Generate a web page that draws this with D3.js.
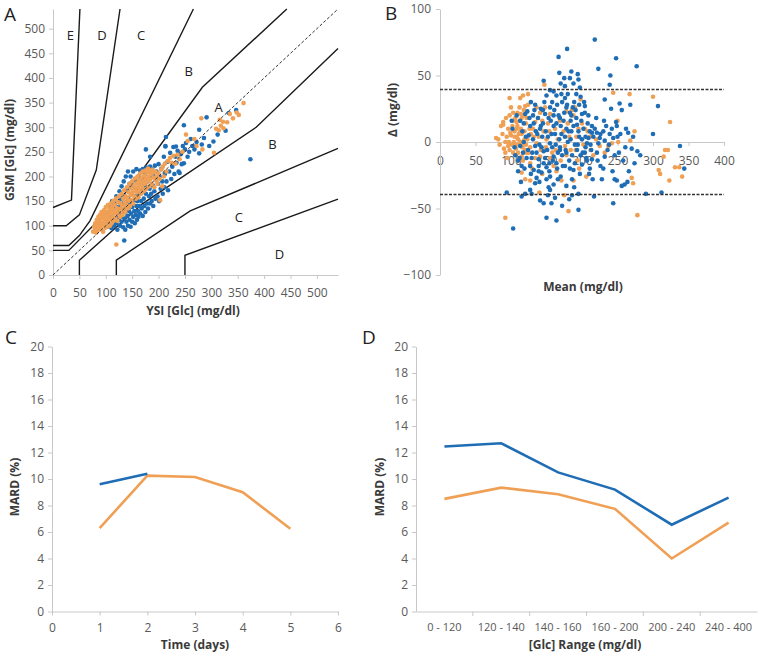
<!DOCTYPE html>
<html><head><meta charset="utf-8">
<script src="https://cdn.jsdelivr.net/npm/d3@7"></script>
<style>
body{margin:0;background:#fff;}
svg{display:block;font-family:"Open Sans",sans-serif;}
</style></head><body>
<svg id="c" width="760" height="653"></svg>
<script>
// ---------- Panel A : Parkes error grid (YSI vs GSM) ----------
const gridE_D = [[0,137],[35,152],[51,540]];
const gridD_C = [[0,100],[25,100],[50,122],[82,213],[127,540]];
const gridC_B = [[0,60],[30,60],[50,80],[70,110],[266,540]];
const gridB_A = [[0,50],[30,50],[140,170],[283,381],[443,540]];
const gridA_B = [[50,0],[50,30],[170,145],[385,300],[540,460]];
const gridB_C = [[120,0],[120,30],[260,130],[540,257]];
const gridC_D = [[250,0],[250,40],[540,154]];
const zoneNames = ["E","D","C","B","A","B","C","D"];
const zoneX = [33,93,167,257,314,416,352,429];
const zoneY = [487,487,487,413,341,266,117,42];
const axisTicksA = [0,50,100,150,200,250,300,350,400,450,500];

const blueA = [[100,108],[102,118],[104,98],[105,125],[106,112],[108,130],[108,102],[110,140],[110,118],[111,95],[112,150],[113,108],[114,125],[115,135],
[116,100],[117,145],[118,115],[119,128],[120,160],[120,105],[121,138],[122,92],[123,120],[124,148],[125,112],[126,170],[126,130],[127,100],[128,140],[128,118],[129,155],[130,108],[130,180],[131,125],[132,145],[133,97],[134,135],[134,190],[135,70],[135,115],[136,160],[137,92],[137,128],[138,200],[138,148],
[139,108],[140,140],[140,172],[141,120],[142,210],[142,100],[143,155],[144,130],[145,185],[145,112],[146,145],[147,200],[147,98],[148,125],[149,165],[150,138],[150,108],[151,178],[152,118],[152,210],[153,150],[154,130],[155,192],[155,105],[156,160],[157,122],[158,140],[158,215],[159,112],[160,175],[160,150],[161,130],[162,200],[162,118],[163,165],[164,140],[165,212],[165,125],[166,185],[167,150],
[168,135],[169,170],[170,215],[170,120],[171,195],[172,155],[173,140],[174,205],[175,128],[175,180],[176,165],[177,218],[178,145],[179,190],[180,135],[181,210],[182,160],[183,175],[184,220],[184,145],[185,198],[186,165],[187,150],[188,215],[189,182],[190,140],[190,205],
[192,170],[193,222],[194,155],[195,195],[196,210],[198,160],[199,185],[200,225],[201,150],[202,200],[204,175],[205,215],[207,190],[208,165],[210,240],[211,178],[212,205],[213,262],[214,280],[215,190],[217,230],[218,172],[220,210],[222,248],[224,195],[226,220],[228,260],[230,205],[232,240],[234,228],[236,252],[238,210],[240,207],[242,245],[244,225],[246,262],
[248,227],[250,255],[252,268],[255,240],[258,250],[261,276],[264,262],[268,255],[269,261],[272,270],[277,295],[277,247],[282,265],[286,278],[291,320],[296,262],[304,271],[312,285],[327,293],[333,329],[347,335],[374,235],[176,255],[184,240],[213,261],[233,261],[242,247],[248,304]];

const orangeA = [[76,88],[78,98],[80,92],[80,105],[82,86],[83,112],[84,98],[85,104],[86,118],[87,92],[88,108],[89,122],[90,100],[90,114],[91,95],[92,128],[93,106],[94,116],[95,88],[95,124],[96,102],[97,132],[98,112],[99,96],[100,120],[100,138],[101,106],[102,128],[103,115],[104,98],[104,142],[105,122],[106,110],[107,134],[108,100],[108,125],[109,145],[110,115],[110,130],[111,105],[112,138],[113,122],[114,150],[115,110],[115,132],[116,126],[117,142],[118,116],[119,155],[120,62],[120,128],[121,136],[122,110],[123,148],[124,124],[125,160],[126,134],[127,118],[128,145],[129,130],[130,165],[131,140],[132,122],[133,155],[134,135],[135,172],[136,148],[137,128],[138,160],[139,142],[140,178],[141,155],[142,135],[143,168],[144,150],[145,185],[146,140],[147,162],[148,175],[149,152],[150,190],[151,168],[152,145],[153,180],[154,160],[155,196],[156,172],[157,155],[158,186],[159,168],[160,200],[161,178],[162,158],[163,192],[164,172],[165,206],[166,185],[167,165],[168,198],[169,178],[170,210],[171,190],[172,170],[173,202],[174,185],[175,212],[176,195],[177,175],[178,208],[179,190],[180,216],[181,200],[182,180],[183,210],[184,194],[186,205],[187,185],[188,214],[190,198],[191,208],[192,178],[194,210],[195,192],[197,200],[198,185],[200,206],[202,195],[203,152],[205,214],[207,180],[208,220],[210,200],[212,226],[215,210],[218,232],[222,238],[225,228],[228,242],[232,226],[236,244],[240,235],[245,250],[252,285],[255,272],[268,276],[272,262],[281,318],[283,255],[305,248],[309,297],[314,294],[316,315],[318,303],[322,311],[323,298],[330,310],[335,327],[341,318],[348,330],[352,325],[361,349]];

// ---------- Panel B : Bland-Altman ----------
const limitsB = [39.5,-39.5];
const axisTicksBx = [0,50,100,150,200,250,300,350,400];
const axisTicksBy = [-100,-50,0,50,100];
const blueB = [[179,70],[167,64],[168,52],[185,53],[175,48],[194,51],[195,47],[146,46],[176,42],[150,35],[155,39],[164,35],[171,36],[176,33],[192,36],[197,41],[189,30],[134,28],[142,25],[155,26],[165,28],[178,26],[183,22],[123,23],[120,21],[131,20],[138,18],[148,21],[160,20],[169,18],[185,20],[200,21],[101,16],[113,16],
[218,77],[248,63],[223,55],[277,57],[240,50],[239,43],[232,32],[253,29],[268,28],[241,25],[307,27],[231,16],[248,15],[204,27],
[103,-65],[150,-57],[164,-59],[195,-51],[182,-43],[155,-36],[141,-44],[146,-46],[157,-46],[94,-38],[115,-41],[120,-39],[129,-39],[195,-39],[127,-36],[134,-31],[136,-27],[153,-34],[178,-33],[155,-26],[143,-23],[132,-21],[115,-18],[110,-14],[127,-18],[150,-19],[164,-16],[176,-18],[188,-21],[200,-17],[160,-11],[146,-7],[178,-8],[193,-6],[139,-13],[169,-6],[134,-3],[200,2],[155,-1],[117,-8],[141,10],[160,12],[178,10],[193,13],[127,12],[113,-3],[139,-18],
[249,12],[265,7],[254,6],[221,7],[230,8],[239,6],[244,3],[225,3],[214,7],[209,3],[207,-1],[223,-1],[232,1],[261,-4],[270,-5],[278,-7],[338,-3],[344,-20],[243,-22],[249,-29],[256,-33],[264,-30],[260,-32],[274,-16],[217,-41],[244,-46],[290,-39],[312,-38],[214,-13],[204,-8],[221,-8],[232,-11],[211,-20],
[125,5],[130,-8],[135,8],[140,-2],[145,14],[148,-12],[152,4],[156,16],[158,-4],[162,6],[165,-20],[168,2],[170,12],[172,-10],[175,22],[180,0],[182,-14],[185,8],[187,26],[190,-2],[192,18],[196,4],[198,-10],[202,10],[205,-4],[208,14],[210,-24],[150,-28],[160,-32],[170,-26],[186,-28],[145,24],[158,30],[172,30],[180,36],[188,44],[196,28],[204,22],[212,-2],[216,4],[118,0],[122,-12],[128,-24],[140,-30],[162,-42],[132,14],[144,4],[154,-16],[166,-8],[176,4],[184,16],[190,-16],[198,34],[206,-12],[214,12],[110,-22],[106,-10],[226,-18],[236,-6],[220,18],[228,-28],[246,-28],[252,-8],[256,24],
[102,10],[105,-4],[108,20],[112,-12],[116,8],[119,-20],[121,4],[124,-6],[126,18],[129,-12],[131,2],[133,24],[136,-8],[137,6],[139,-22],[142,12],[143,-4],[146,-16],[147,30],[149,8],[151,-6],[153,18],[154,-22],[157,6],[159,-14],[161,24],[163,-2],[164,14],[166,-28],[167,20],[169,-4],[171,6],[173,-18],[174,16],[177,-6],[179,28],[181,8],[183,-20],[184,2],[186,-10],[188,12],[189,-34],[191,24],[194,-2],[195,8],[197,-24],[199,16],[201,-8],[203,30],[205,4],[207,-14],[209,20],[211,8],[213,-6],[215,-28],[218,10],[222,-14],[226,6],[230,-20],[234,12],[238,-2],[242,10],[246,-10],[250,4],[258,-14],[262,10],[266,-22],[272,4],[282,-10],[300,6],[160,38],[170,44],[183,48],[152,-40],[172,-48],[186,-40],[128,30],[118,14],[114,-30]];
const orangeB = [[147,43],[98,33],[117,35],[124,36],[103,22],[114,21],[120,27],[124,28],[108,15],[89,15],[155,21],[141,22],[178,23],[190,26],[169,16],[134,15],
[244,37],[267,36],[300,34],[324,15],[250,16],
[89,13],[82,2],[79,3],[99,7],[108,10],[115,6],[110,2],[106,-2],[117,-1],[127,-4],[122,-8],[110,-14],[115,-23],[127,-29],[127,-16],[141,-11],[155,-12],[164,-22],[171,-29],[181,-52],[92,-57],[193,-14],[188,-29],[176,-3],[150,2],[136,-1],[96,-3],[92,-8],[103,-8],[115,-11],
[274,8],[268,1],[225,-3],[237,-3],[242,-1],[251,0],[317,-6],[315,-11],[321,-6],[308,-21],[310,-24],[323,-29],[331,-19],[337,-19],[341,-26],[270,-27],[272,-31],[278,-55],[204,10],[211,4],[232,-8],
[100,5],[102,12],[104,0],[105,8],[106,18],[107,-5],[108,4],[109,12],[110,-8],[111,6],[112,16],[113,0],[114,10],[116,-4],[118,20],[119,8],[120,-6],[121,14],[123,2],[126,10],[98,-6],[96,10],[94,4],[92,0],[90,-5],[86,12],[84,-2],[100,26],[112,26],[118,24],
[132,4],[138,18],[142,-6],[146,8],[152,14],[158,-8],[162,10],[166,2],[170,-14],[174,8],[180,14],[184,-6],[186,24],[192,4],[196,-20],[200,14],[206,-26],[130,-20],[144,-24],[160,-18],[175,-40],[188,20],[198,32],[148,26],[140,-38],[113,33],[120,-28],[136,26],[212,-6],[220,2],
[101,-2],[103,16],[105,4],[107,-10],[109,22],[111,-2],[113,8],[115,18],[117,-14],[119,2],[121,-2],[122,18],[125,-8],[128,6],[131,10],[134,-12],[139,4],[144,16],[149,-4],[154,8],[163,-6],[168,18],[178,-10],[182,4],[191,-6],[195,10],[202,-2],[208,8],[216,-10],[98,20],[95,-12],[88,6],[93,18],[97,0]];

// ---------- Panel C : MARD vs time ----------
const days = [1,2,3,4,5];
const blueC = [9.6,10.4];
const orangeC = [6.3,10.25,10.15,9.0,6.25];
const axisTicksCx = [0,1,2,3,4,5,6];
const axisTicksMard = [0,2,4,6,8,10,12,14,16,18,20];

// ---------- Panel D : MARD vs glucose range ----------
const ranges = ["0 - 120","120 - 140","140 - 160","160 - 200","200 - 240","240 - 400"];
const blueD = [12.45,12.7,10.5,9.2,6.55,8.6];
const orangeD = [8.5,9.35,8.85,7.75,4.0,6.7];

const BLUE = "#1f6db5", ORANGE = "#f0a055";
const AXC = "#c8c8c8", TXT = "#595959", TTL = "#3a3a3a";
const svg = d3.select("#c");

function styleAxis(g, fs){
  g.selectAll(".domain").attr("stroke",AXC).attr("stroke-width",1);
  g.selectAll(".tick line").attr("stroke",AXC);
  g.selectAll(".tick text").attr("fill",TXT).style("font-size",(fs||12)+"px").style("font-family","'Open Sans',sans-serif");
}
function title(x,y,t,rot){
  const el = svg.append("text").attr("text-anchor","middle").attr("fill",TTL)
    .style("font-size","12px").style("font-weight","bold").text(t);
  if(rot){ el.attr("transform",`translate(${x},${y}) rotate(-90)`); }
  else { el.attr("x",x).attr("y",y); }
}
function letter(x,y,t){
  svg.append("text").attr("x",x).attr("y",y).style("font-size","19px").attr("fill","#222").text(t);
}
const R = 2.3;

// ===== Panel A =====
const xA = d3.scaleLinear().domain([0,540]).range([53,338]);
const yA = d3.scaleLinear().domain([0,540]).range([275,9]);
const gA = svg.append("g");
styleAxis(gA.append("g").attr("transform","translate(0,275)")
  .call(d3.axisBottom(xA).tickValues(axisTicksA).tickSize(4).tickSizeOuter(0).tickPadding(9)));
styleAxis(gA.append("g").attr("transform","translate(53,0)")
  .call(d3.axisLeft(yA).tickValues(axisTicksA).tickSize(4).tickSizeOuter(0).tickPadding(4)));
const lineA = d3.line().x(d=>xA(d[0])).y(d=>yA(d[1]));
[gridE_D,gridD_C,gridC_B,gridB_A,gridA_B,gridB_C,gridC_D].forEach(p=>{
  gA.append("path").attr("d",lineA(p)).attr("fill","none").attr("stroke","#1a1a1a").attr("stroke-width",1.4);
});
gA.selectAll("circle.b").data(blueA).join("circle").attr("class","b")
  .attr("cx",d=>xA(d[0])).attr("cy",d=>yA(d[1])).attr("r",R).attr("fill",BLUE);
gA.selectAll("circle.o").data(orangeA).join("circle").attr("class","o")
  .attr("cx",d=>xA(d[0])).attr("cy",d=>yA(d[1])).attr("r",R).attr("fill",ORANGE);
gA.append("path").attr("d",lineA([[0,0],[540,540]])).attr("fill","none")
  .attr("stroke","#333").attr("stroke-width",1).attr("stroke-dasharray","3,2");
gA.selectAll("text.zone").data(zoneNames).join("text").attr("class","zone")
  .attr("x",(d,i)=>xA(zoneX[i])).attr("y",(d,i)=>yA(zoneY[i])).attr("dy","0.35em")
  .attr("text-anchor","middle").style("font-size","13px").attr("fill","#222").text(d=>d);
title(193,315,"YSI [Glc] (mg/dl)");
title(14,150,"GSM [Glc] (mg/dl)",true);
letter(4,21,"A");

// ===== Panel B =====
const xB = d3.scaleLinear().domain([0,400]).range([440,724]);
const yB = d3.scaleLinear().domain([-100,100]).range([275,9]);
const gB = svg.append("g");
styleAxis(gB.append("g").attr("transform",`translate(0,${yB(0)})`)
  .call(d3.axisBottom(xB).tickValues(axisTicksBx).tickSize(4).tickSizeOuter(0).tickPadding(10)));
styleAxis(gB.append("g").attr("transform","translate(440,0)")
  .call(d3.axisLeft(yB).tickValues(axisTicksBy).tickSize(4).tickSizeOuter(0).tickPadding(5)));
gB.selectAll("circle.o").data(orangeB).join("circle").attr("class","o")
  .attr("cx",d=>xB(d[0])).attr("cy",d=>yB(d[1])).attr("r",R).attr("fill",ORANGE);
gB.selectAll("circle.b").data(blueB).join("circle").attr("class","b")
  .attr("cx",d=>xB(d[0])).attr("cy",d=>yB(d[1])).attr("r",R).attr("fill",BLUE);
limitsB.forEach(v=>{
  gB.append("line").attr("x1",xB(0)).attr("x2",xB(400)).attr("y1",yB(v)).attr("y2",yB(v))
    .attr("stroke","#333").attr("stroke-width",1.5).attr("stroke-dasharray","3,1.5");
});
title(583,291,"Mean (mg/dl)");
title(397,110,"Δ (mg/dl)",true);
letter(385,20,"B");

// ===== Panel C =====
const xC = d3.scaleLinear().domain([0,6]).range([52,338]);
const yC = d3.scaleLinear().domain([0,20]).range([611.5,346.5]);
const gC = svg.append("g");
styleAxis(gC.append("g").attr("transform","translate(0,611.5)")
  .call(d3.axisBottom(xC).tickValues(axisTicksCx).tickFormat(d3.format("d")).tickSize(4).tickSizeOuter(0).tickPadding(8)));
styleAxis(gC.append("g").attr("transform","translate(52,0)")
  .call(d3.axisLeft(yC).tickValues(axisTicksMard).tickSize(4).tickSizeOuter(0).tickPadding(4)));
const lineC = d3.line().x((d,i)=>xC(days[i])).y(d=>yC(d));
gC.append("path").attr("d",lineC(orangeC)).attr("fill","none").attr("stroke",ORANGE).attr("stroke-width",2.6);
gC.append("path").attr("d",lineC(blueC)).attr("fill","none").attr("stroke",BLUE).attr("stroke-width",2.6);
title(195,649,"Time (days)");
title(19,487,"MARD (%)",true);
letter(5,344,"C");

// ===== Panel D =====
const xD = d3.scaleBand().domain(ranges).range([416,757]);
const yD = d3.scaleLinear().domain([0,20]).range([611.5,346.5]);
const gD = svg.append("g");
const axD = gD.append("g").attr("transform","translate(0,611.5)")
  .call(d3.axisBottom(xD).tickSize(0).tickSizeOuter(0).tickPadding(12));
styleAxis(axD, 11);
gD.selectAll("line.sep").data(ranges.slice(1)).join("line").attr("class","sep")
  .attr("x1",d=>xD(d)).attr("x2",d=>xD(d)).attr("y1",611.5).attr("y2",616).attr("stroke",AXC);
styleAxis(gD.append("g").attr("transform","translate(416,0)")
  .call(d3.axisLeft(yD).tickValues(axisTicksMard).tickSize(4).tickSizeOuter(0).tickPadding(4)));
const lineD = d3.line().x((d,i)=>xD(ranges[i])+xD.bandwidth()/2).y(d=>yD(d));
gD.append("path").attr("d",lineD(orangeD)).attr("fill","none").attr("stroke",ORANGE).attr("stroke-width",2.6);
gD.append("path").attr("d",lineD(blueD)).attr("fill","none").attr("stroke",BLUE).attr("stroke-width",2.6);
title(585,649,"[Glc] Range (mg/dl)");
title(384,487,"MARD (%)",true);
letter(362,344,"D");
</script>
</body></html>
